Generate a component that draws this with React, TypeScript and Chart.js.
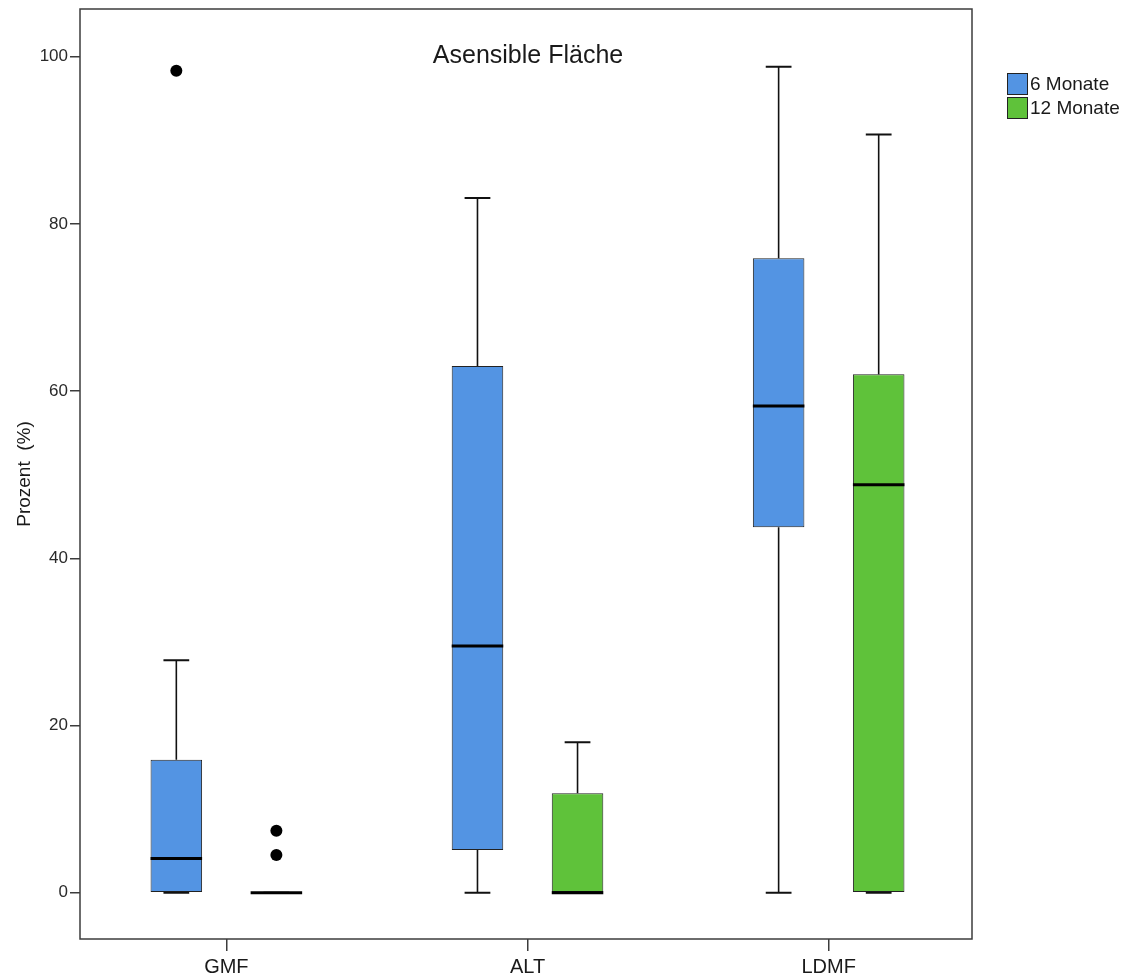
import React, { useEffect, useRef } from 'react';
import { Chart, registerables } from 'chart.js';

Chart.register(...registerables);

// ---- data ----
const categories = ['GMF', 'ALT', 'LDMF'];
const seriesNames = ['6 Monate', '12 Monate'];
const seriesColors = ['#5394e3', '#5fc23a'];

const min6 = [0, 0, 0];
const q1_6 = [0, 5.1, 43.7];
const median6 = [4.1, 29.5, 58.2];
const q3_6 = [15.9, 63.0, 75.9];
const max6 = [27.8, 83.1, 98.8];
const outliers6 = [[98.3], [], []];

const min12 = [0, 0, 0];
const q1_12 = [0, 0, 0];
const median12 = [0, 0, 48.8];
const q3_12 = [0, 11.9, 62.0];
const max12 = [0, 18.0, 90.7];
const outliers12 = [[7.4, 4.5], [], []];

const yTickValues = [0, 20, 40, 60, 80, 100];
const chartTitle = 'Asensible Fläche';
const yAxisTitle = 'Prozent  (%)';

const stats = [
  { min: min6, q1: q1_6, median: median6, q3: q3_6, max: max6, outliers: outliers6 },
  { min: min12, q1: q1_12, median: median12, q3: q3_12, max: max12, outliers: outliers12 },
];

const FONT = "'Liberation Sans', Arial, Helvetica, sans-serif";
const INK = '#111111';
const FRAME = '#3c3c3c';

const boxPlugin = {
  id: 'boxWhiskers',
  afterDatasetsDraw(chart: any) {
    const ctx = chart.ctx;
    const y = chart.scales.y;
    ctx.save();
    stats.forEach((s, d) => {
      const meta = chart.getDatasetMeta(d);
      meta.data.forEach((bar: any, i: number) => {
        const x = bar.x;
        const w = bar.width;
        const capHalf = w / 4;
        const yMax = y.getPixelForValue(s.max[i]);
        const yQ3 = y.getPixelForValue(s.q3[i]);
        const yQ1 = y.getPixelForValue(s.q1[i]);
        const yMin = y.getPixelForValue(s.min[i]);
        const yMed = y.getPixelForValue(s.median[i]);
        ctx.strokeStyle = INK;
        ctx.lineWidth = 1.6;
        ctx.beginPath();
        if (s.max[i] > s.q3[i]) {
          ctx.moveTo(x, yQ3);
          ctx.lineTo(x, yMax);
        }
        if (s.min[i] < s.q1[i]) {
          ctx.moveTo(x, yQ1);
          ctx.lineTo(x, yMin);
        }
        ctx.stroke();
        ctx.lineWidth = 2;
        ctx.beginPath();
        ctx.moveTo(x - capHalf, yMax);
        ctx.lineTo(x + capHalf, yMax);
        ctx.moveTo(x - capHalf, yMin);
        ctx.lineTo(x + capHalf, yMin);
        ctx.stroke();
        ctx.lineWidth = 3;
        ctx.strokeStyle = '#000';
        ctx.beginPath();
        ctx.moveTo(x - w / 2, yMed);
        ctx.lineTo(x + w / 2, yMed);
        ctx.stroke();
        ctx.fillStyle = '#000';
        s.outliers[i].forEach((v: number) => {
          ctx.beginPath();
          ctx.arc(x, y.getPixelForValue(v), 6, 0, Math.PI * 2);
          ctx.fill();
        });
      });
    });
    ctx.restore();
  },
  afterDraw(chart: any) {
    const ctx = chart.ctx;
    const a = chart.chartArea;
    ctx.save();
    // frame
    ctx.strokeStyle = FRAME;
    ctx.lineWidth = 1.5;
    ctx.strokeRect(a.left, a.top, a.right - a.left, a.bottom - a.top);
    // title
    ctx.fillStyle = '#1a1a1a';
    ctx.font = `25px ${FONT}`;
    ctx.textAlign = 'center';
    ctx.textBaseline = 'alphabetic';
    ctx.fillText(chartTitle, 528, 63);
    // legend
    ctx.font = `19px ${FONT}`;
    ctx.textAlign = 'left';
    ctx.textBaseline = 'middle';
    seriesNames.forEach((name, k) => {
      const top = 73 + k * 24;
      ctx.fillStyle = seriesColors[k];
      ctx.fillRect(1007.5, top + 0.5, 20, 21);
      ctx.strokeStyle = '#222';
      ctx.lineWidth = 1;
      ctx.strokeRect(1007.5, top + 0.5, 20, 21);
      ctx.fillStyle = '#1a1a1a';
      ctx.fillText(name, 1030, top + 11.5);
    });
    ctx.restore();
  },
};

export default function App() {
  const canvasRef = useRef<HTMLCanvasElement | null>(null);

  useEffect(() => {
    if (!canvasRef.current) return;
    const datasets = stats.map((s, d) => ({
      label: seriesNames[d],
      data: categories.map((_, i) => ({ x: i, y: [s.q1[i], s.q3[i]] })),
      backgroundColor: seriesColors[d],
      borderColor: '#222222',
      borderWidth: 1,
      borderSkipped: false,
      categoryPercentage: 0.6645,
      barPercentage: 0.515,
    }));

    const chart = new Chart(canvasRef.current, {
      type: 'bar',
      data: { datasets } as any,
      plugins: [boxPlugin],
      options: {
        animation: false,
        responsive: false,
        devicePixelRatio: 1,
        layout: { padding: { top: 9, right: 162, left: 0, bottom: 0 } },
        plugins: {
          legend: { display: false },
          tooltip: { enabled: false },
          title: { display: false },
        },
        scales: {
          x: {
            type: 'linear',
            offset: false,
            min: -0.486,
            max: 2.476,
            afterBuildTicks: (scale: any) => {
              scale.ticks = categories.map((_, i) => ({ value: i }));
            },
            afterFit: (scale: any) => {
              scale.height = 39;
              scale.paddingLeft = 0;
              scale.paddingRight = 0;
            },
            ticks: {
              autoSkip: false,
              maxRotation: 0,
              padding: 4,
              color: '#1a1a1a',
              font: { family: FONT, size: 20 },
              callback: (v: any) => categories[Math.round(Number(v))] ?? '',
            },
            grid: {
              display: true,
              offset: false,
              drawOnChartArea: false,
              drawTicks: true,
              tickLength: 12,
              color: FRAME,
              lineWidth: 1.5,
            },
            border: { display: false },
          },
          y: {
            type: 'linear',
            min: -5.54,
            max: 105.7,
            afterBuildTicks: (scale: any) => {
              scale.ticks = yTickValues.map((v) => ({ value: v }));
            },
            afterFit: (scale: any) => {
              scale.width = 80;
              scale.paddingTop = 0;
              scale.paddingBottom = 0;
            },
            ticks: {
              padding: 2,
              color: '#2a2a2a',
              font: { family: FONT, size: 17 },
            },
            grid: {
              display: true,
              drawOnChartArea: false,
              drawTicks: true,
              tickLength: 10,
              color: FRAME,
              lineWidth: 1.5,
            },
            border: { display: false },
            title: {
              display: true,
              text: yAxisTitle,
              color: '#1a1a1a',
              font: { family: FONT, size: 19 },
              padding: { top: 13.6, bottom: 0 },
            },
          },
        },
      } as any,
    });
    return () => chart.destroy();
  }, []);

  return (
    <div style={{ position: 'fixed', left: 0, top: 0, width: 1134, height: 978, background: '#fff' }}>
      <canvas ref={canvasRef} width={1134} height={978} style={{ display: 'block' }} />
    </div>
  );
}
